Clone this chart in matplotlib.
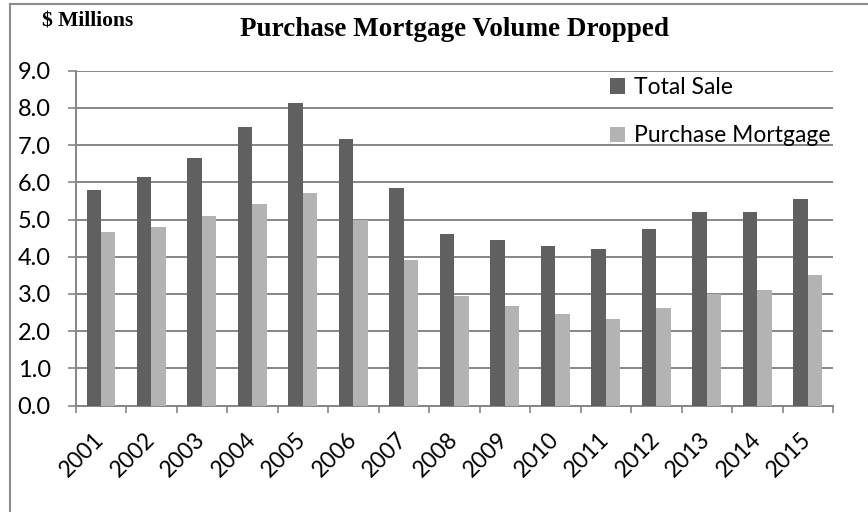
import numpy as np
import matplotlib
matplotlib.use("Agg")
import matplotlib.pyplot as plt
from matplotlib.lines import Line2D

# データ
years = ["2001", "2002", "2003", "2004", "2005", "2006", "2007", "2008",
         "2009", "2010", "2011", "2012", "2013", "2014", "2015"]
total_sale = [5.78, 6.13, 6.65, 7.49, 8.14, 7.16, 5.84, 4.62,
              4.44, 4.30, 4.22, 4.74, 5.21, 5.21, 5.56]
purchase_mortgage = [4.66, 4.80, 5.10, 5.41, 5.72, 5.00, 3.90, 2.95,
                     2.68, 2.45, 2.32, 2.63, 3.00, 3.10, 3.51]
yticks = [0, 1, 2, 3, 4, 5, 6, 7, 8, 9]

W, H = 868, 512
fig = plt.figure(figsize=(W / 100, H / 100), dpi=100)
ax = fig.add_axes([75.7 / W, 1 - 405.5 / H, (833 - 75.7) / W, (405.5 - 70.7) / H])

grid_c = "#868686"
body_font = ["Lato", "DejaVu Sans"]

x = np.arange(len(years))
w = 0.286
ax.bar(x - w / 2, total_sale, w, color="#606060", label="Total Sale", zorder=3)
ax.bar(x + w / 2, purchase_mortgage, w, color="#b3b3b3", label="Purchase Mortgage", zorder=3)

ax.set_xlim(-0.5, len(years) - 0.5)
ax.set_ylim(0, 9)

# y軸
ax.set_yticks(yticks)
ax.set_yticklabels([f"{v:.1f}" for v in yticks], fontsize=17, family=body_font)
ax.yaxis.grid(True, color=grid_c, linewidth=1.4, zorder=0)
ax.tick_params(axis="y", length=6, width=1.2, color=grid_c, pad=12)

# x軸: 区切り目盛りとラベル
ax.set_xticks(np.arange(-0.5, len(years), 1))
ax.set_xticklabels([])
ax.set_xticks(x, minor=True)
ax.set_xticklabels(years, minor=True, rotation=45, rotation_mode="anchor",
                   ha="right", va="center", fontsize=16.5, family=body_font)
ax.tick_params(axis="x", which="major", length=5, width=1.2, color=grid_c)
ax.tick_params(axis="x", which="minor", length=0, pad=22)

for s in ["top", "right"]:
    ax.spines[s].set_visible(False)
for s in ["left", "bottom"]:
    ax.spines[s].set_color(grid_c)
    ax.spines[s].set_linewidth(1.4)

# 凡例
leg = fig.legend(loc="upper left", bbox_to_anchor=(610 / W, 1 - 77 / H),
                 frameon=False, prop={"family": body_font, "size": 16.5},
                 handlelength=0.65, handleheight=0.65, handletextpad=0.4,
                 labelspacing=1.2, borderpad=0, borderaxespad=0)

# タイトル
fig.text(454 / W, 1 - 30 / H, "Purchase Mortgage Volume Dropped",
         ha="center", va="center", fontsize=19.5, fontweight="bold",
         family="Liberation Serif")
fig.text(42 / W, 1 - 22 / H, "$ Millions", ha="left", va="center",
         fontsize=15.5, fontweight="bold", family="Liberation Serif")

# 外枠
fig.add_artist(Line2D([10 / W, 1], [1 - 4 / H, 1 - 4 / H], color="#8c8c8c", lw=1.5,
                      transform=fig.transFigure))
fig.add_artist(Line2D([10 / W, 10 / W], [0, 1 - 4 / H], color="#8c8c8c", lw=1.5,
                      transform=fig.transFigure))

fig.savefig("out.png", dpi=100)
